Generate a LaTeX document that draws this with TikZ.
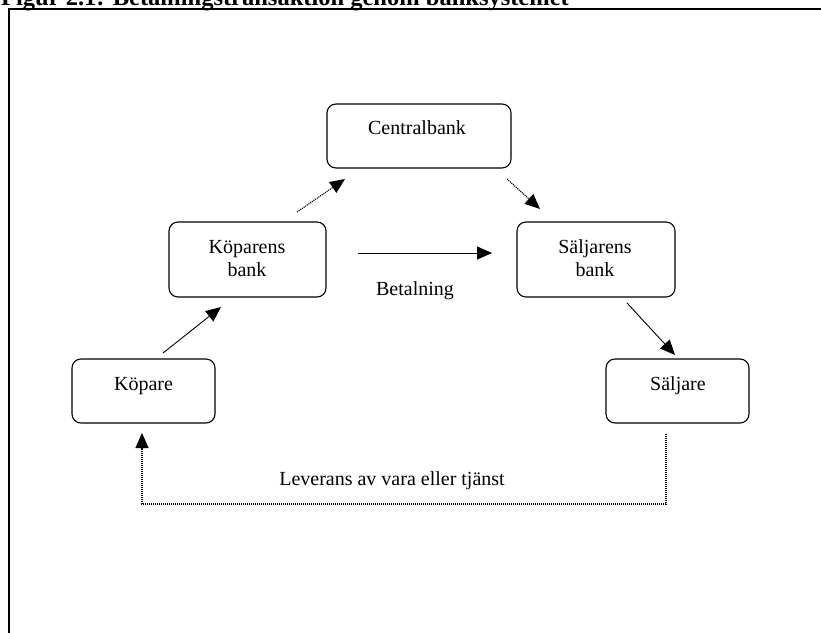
\documentclass[tikz,border=0pt]{standalone}
\usepackage{fontspec}
\setmainfont{Liberation Serif}
\usetikzlibrary{arrows.meta,calc}
\begin{document}
\begin{tikzpicture}[x=1pt,y=1pt,
  box/.style={draw, line width=1.1pt, rounded corners=9pt, inner sep=0pt},
  lbl/.style={inner sep=0pt, anchor=base, font=\fontsize{20}{23}\selectfont, align=center},
  arr/.style={line width=0.9pt, -{Triangle[length=15pt,width=13pt]}},
  dotarr/.style={line width=1.1pt, dash pattern=on 1.1pt off 0.9pt, -{Triangle[length=15pt,width=13pt]}},
]
\useasboundingbox (0,0) rectangle (821,-632);
\fill[white] (0,0) rectangle (821,-632);
% frame (continues beyond the page)
\draw[line width=2pt] (9,-700) -- (9,-8.5) -- (900,-8.5);
% title, partly cut off at the top
\node[anchor=base west, inner sep=0pt, font=\bfseries\fontsize{24.5}{28}\selectfont] (title) at (1,-5) {Figur 2.1: Betalningstransaktion genom banksystemet};

% boxes
\node[box, minimum width=184pt, minimum height=64pt] (cb) at (419,-136) {};
\node[box, minimum width=157pt, minimum height=75pt] (kb) at (247.5,-259.5) {};
\node[box, minimum width=158pt, minimum height=75pt] (sb) at (596,-259.5) {};
\node[box, minimum width=143pt, minimum height=64pt] (kp) at (143.5,-391) {};
\node[box, minimum width=143pt, minimum height=64pt] (sj) at (677.5,-391) {};

% texts
\node[lbl] (cbt) at (417,-134) {Centralbank};
\node[lbl] (kbt) at (247,-276) {Köparens\\bank};
\node[lbl] (sbt) at (595,-276) {Säljarens\\bank};
\node[lbl] (kpt) at (143.5,-390) {Köpare};
\node[lbl] (sjt) at (678,-390) {Säljare};
\node[lbl] (bet) at (415,-295) {Betalning};
\node[lbl] (lev) at (392,-485) {Leverans av vara eller tjänst};

% connector end points
\coordinate (kp-o) at (163,-353);
\coordinate (kb-i) at (221,-307);
\coordinate (kb-o) at (297,-212);
\coordinate (cb-i) at (345,-179);
\coordinate (cb-o) at (507,-179);
\coordinate (sb-i) at (540,-209);
\coordinate (kb-r) at (358,-253);
\coordinate (sb-l) at (492,-253);
\coordinate (sb-o) at (627,-303);
\coordinate (sj-i) at (675,-355);
\coordinate (sj-o) at (666,-434);
\coordinate (kp-i) at (142,-433);

% connectors
\draw[arr] (kp-o) -- (kb-i);
\draw[dotarr] (kb-o) -- (cb-i);
\draw[dotarr] (cb-o) -- (sb-i);
\draw[arr] (kb-r) -- (sb-l);
\draw[arr] (sb-o) -- (sj-i);
\draw[dotarr] (sj-o) -- ++(0,-70) -| (kp-i);
\end{tikzpicture}
\end{document}
